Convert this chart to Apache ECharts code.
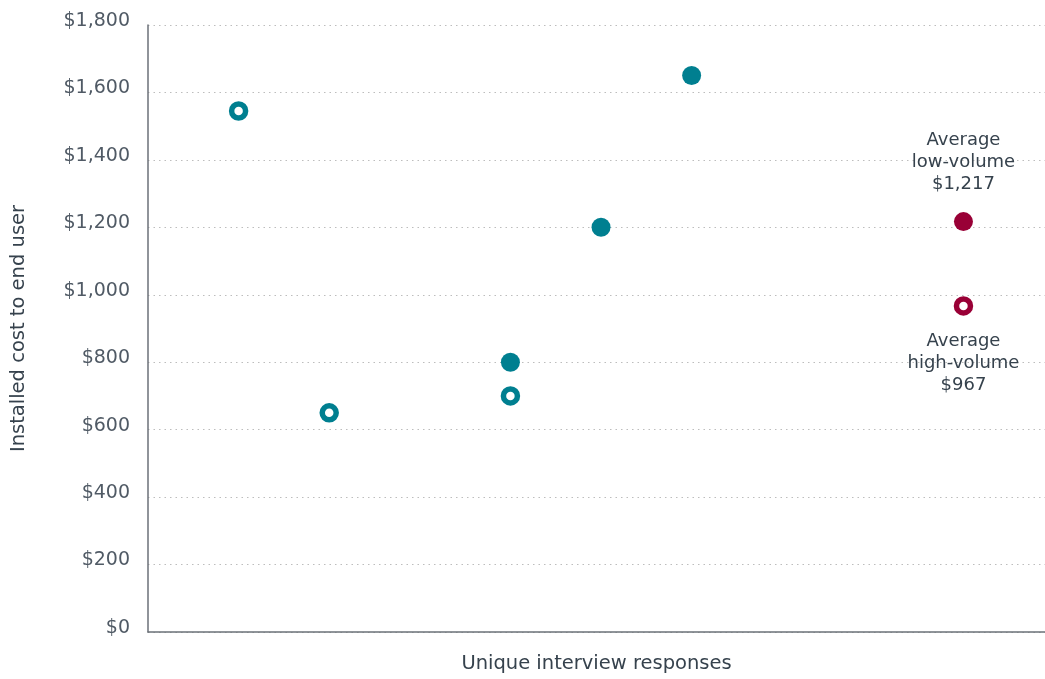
<!DOCTYPE html>
<html>
<head>
<meta charset="utf-8">
<script src="https://cdn.jsdelivr.net/npm/echarts@6/dist/echarts.min.js"></script>
<style>
  html, body { margin: 0; padding: 0; background: #fff; }
  #chart { width: 1045px; height: 679px; }
</style>
</head>
<body>
<div id="chart"></div>
<script>
// Data
const hollowX = [1, 2, 4];
const hollowY = [1545, 650, 700];
const filledX = [4, 5, 6];
const filledY = [800, 1200, 1650];
const avgX = 9;
const avgLowValue = 1217;
const avgHighValue = 967;
const avgLowLabel = ['Average', 'low-volume', '$1,217'];
const avgHighLabel = ['Average', 'high-volume', '$967'];
const yTicks = [0, 200, 400, 600, 800, 1000, 1200, 1400, 1600, 1800];
const xTitle = 'Unique interview responses';
const yTitle = 'Installed cost to end user';

const TEAL = '#007f90';
const CRIMSON = '#990036';
const FONT = '"DejaVu Sans", "Open Sans", sans-serif';

const chart = echarts.init(document.getElementById('chart'), null, { renderer: 'canvas' });

const hollowStyle = (c) => ({ color: '#ffffff', borderColor: c, borderWidth: 5.5, opacity: 1 });

const annot = {
  fontFamily: FONT, fontSize: 18, color: '#36424d', lineHeight: 22, align: 'center'
};

chart.setOption({
  animation: false,
  grid: { left: 148, right: 0, top: 25, bottom: 44, containLabel: false },
  xAxis: {
    type: 'value', min: 0, max: 9.9,
    axisLine: { show: true, lineStyle: { color: '#6b7178', width: 1.5 } },
    axisTick: { show: false }, axisLabel: { show: false }, splitLine: { show: false },
    name: xTitle, nameLocation: 'middle', nameGap: 22,
    nameTextStyle: { fontFamily: FONT, fontSize: 19.5, color: '#36424d' }
  },
  yAxis: {
    type: 'value', min: yTicks[0], max: yTicks[yTicks.length - 1], interval: 200,
    axisLine: { show: true, lineStyle: { color: '#6b7178', width: 1.5 } },
    axisTick: { show: false },
    axisLabel: {
      margin: 18, fontFamily: FONT, fontSize: 19, color: '#505a65',
      verticalAlign: 'bottom', lineHeight: 8,
      formatter: (v) => '$' + v.toLocaleString('en-US')
    },
    splitLine: { show: true, lineStyle: { color: '#bdbdbd', type: [1.5, 4], width: 1.2 } },
    name: yTitle, nameLocation: 'middle', nameRotate: 90, nameGap: 119,
    nameTextStyle: { fontFamily: FONT, fontSize: 19.5, color: '#36424d' }
  },
  series: [
    {
      type: 'scatter', symbol: 'circle', symbolSize: 14,
      itemStyle: hollowStyle(TEAL),
      data: hollowX.map((x, i) => [x, hollowY[i]])
    },
    {
      type: 'scatter', symbol: 'circle', symbolSize: 19,
      itemStyle: { color: TEAL, opacity: 1 },
      data: filledX.map((x, i) => [x, filledY[i]])
    },
    {
      type: 'scatter', symbol: 'circle', symbolSize: 19,
      itemStyle: { color: CRIMSON, opacity: 1 },
      label: Object.assign({ show: true, position: 'top', distance: 17,
        formatter: () => avgLowLabel.join('\n') }, annot),
      data: [[avgX, avgLowValue]]
    },
    {
      type: 'scatter', symbol: 'circle', symbolSize: 14,
      itemStyle: hollowStyle(CRIMSON),
      label: Object.assign({ show: true, position: 'bottom', distance: 15,
        formatter: () => avgHighLabel.join('\n') }, annot),
      data: [[avgX, avgHighValue]]
    }
  ]
});
</script>
</body>
</html>
